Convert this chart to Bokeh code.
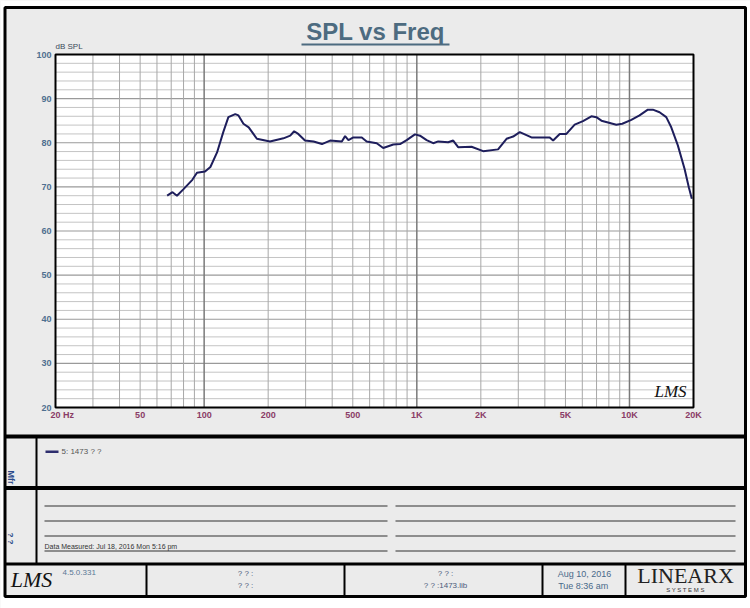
from bokeh.plotting import figure
from bokeh.models import Range1d, LogScale, LinearScale
from bokeh.core.properties import value
from bokeh.embed import file_html
from bokeh.resources import INLINE
import math

# ---------------- data ----------------
freq_hz = [67, 71, 74.5, 80, 88, 92.5, 101, 107, 115, 123, 130, 140, 145, 153, 162,
           177, 204, 236, 254, 265, 277, 298, 327, 358, 391, 444, 460, 477, 503, 551,
           581, 648, 695, 775, 834, 896, 980, 1035, 1112, 1194, 1261, 1404, 1483, 1564,
           1808, 2051, 2410, 2642, 2837, 3049, 3460, 4217, 4374, 4700, 5050, 5525, 6043,
           6620, 6986, 7380, 7925, 8670, 9250, 10200, 11150, 12200, 12880, 13850, 14890,
           15720, 16880, 18150, 19010, 19640]
spl_db = [68.0, 68.8, 68.0, 69.5, 71.6, 73.2, 73.5, 74.5, 77.8, 82.4, 85.8, 86.5, 86.2,
          84.3, 83.5, 80.9, 80.3, 81.0, 81.6, 82.6, 82.0, 80.5, 80.3, 79.7, 80.5, 80.3,
          81.5, 80.6, 81.2, 81.2, 80.3, 79.9, 78.8, 79.6, 79.7, 80.6, 81.9, 81.6, 80.6,
          79.9, 80.3, 80.1, 80.5, 79.0, 79.1, 78.1, 78.5, 80.9, 81.4, 82.4, 81.2, 81.2,
          80.5, 82.0, 82.0, 84.1, 84.9, 86.0, 85.8, 85.0, 84.6, 84.1, 84.3, 85.2, 86.2,
          87.5, 87.5, 86.9, 85.8, 83.5, 79.4, 74.1, 69.9, 67.3]

x_ticks = [20, 50, 100, 200, 500, 1000, 2000, 5000, 10000, 20000]
x_tick_labels = ["20  Hz", "50", "100", "200", "500", "1K", "2K", "5K", "10K", "20K"]
x_grid_lines = [30, 40, 50, 60, 70, 80, 90,
                200, 300, 400, 500, 600, 700, 800, 900,
                2000, 3000, 4000, 5000, 6000, 7000, 8000, 9000]
x_decades = [100, 1000, 10000]
y_ticks = [20, 30, 40, 50, 60, 70, 80, 90, 100]
y_tick_labels = [str(v) for v in y_ticks]
y_minor = [v for v in range(22, 100, 2) if v % 10 != 0]

F_MIN, F_MAX = 20, 20000
DB_MIN, DB_MAX = 20, 100

title_text = "SPL vs Freq"
y_unit = "dB SPL"
legend_text = "5: 1473 ? ?"
measured_text = "Data Measured: Jul 18, 2016  Mon  5:16 pm"

# ---------------- page geometry (pixels) ----------------
W, H = 750, 608
PL, PR, PT, PB = 55, 693, 54, 407   # plot frame in page pixels

dec_per_px = math.log10(F_MAX / F_MIN) / (PR - PL)
f_lo = F_MIN * 10 ** (-PL * dec_per_px)
f_hi = F_MAX * 10 ** ((W - PR) * dec_per_px)
db_per_px = (DB_MAX - DB_MIN) / (PB - PT)
db_lo = DB_MIN - (H - PB) * db_per_px
db_hi = DB_MAX + PT * db_per_px

p = figure(width=W, height=H, title=None, output_backend="svg", toolbar_location=None,
           x_range=Range1d(0, W), y_range=Range1d(H, 0),
           x_axis_location=None, y_axis_location=None,
           min_border=0, min_border_left=0, min_border_right=0,
           min_border_top=0, min_border_bottom=0)
p.extra_x_ranges = {"f": Range1d(f_lo, f_hi)}
p.extra_x_scales = {"f": LogScale()}
p.extra_y_ranges = {"db": Range1d(db_lo, db_hi)}
p.extra_y_scales = {"db": LinearScale()}
p.xgrid.visible = False
p.ygrid.visible = False
p.outline_line_color = None
p.background_fill_color = "#ebebeb"
p.border_fill_color = "#ebebeb"

FR = dict(x_range_name="f", y_range_name="db")

def box(l, t, r, b, color):
    p.quad(left=[l], right=[r], top=[t], bottom=[b], fill_color=color, line_color=None)

def txt(x, y, text, size="8px", color="#333333", align="left", style="normal",
        font="Liberation Sans", angle=0.0, **kw):
    if not isinstance(text, list):
        x, y, text = [x], [y], [text]
    p.text(x=x, y=y, text=text, text_font=value(font), text_font_size=value(size),
           text_color=color, text_align=align, text_baseline="middle",
           text_font_style=style, angle=angle, **kw)

# white margins outside the outer border
box(0, 0, 4, H, "white")
box(746, 0, W, H, "white")
box(0, 0, W, 6, "white")
box(0, 597, W, H, "white")

# ---------------- the chart ----------------
p.quad(left=[F_MIN], right=[F_MAX], bottom=[DB_MIN], top=[DB_MAX],
       fill_color="white", line_color=None, **FR)
p.segment(x0=[F_MIN] * len(y_minor), x1=[F_MAX] * len(y_minor), y0=y_minor, y1=y_minor,
          line_color="#c4c4c4", line_width=1, **FR)
p.segment(x0=[F_MIN] * len(y_ticks), x1=[F_MAX] * len(y_ticks), y0=y_ticks, y1=y_ticks,
          line_color="#9a9a9a", line_width=1.2, **FR)
p.segment(x0=x_grid_lines, x1=x_grid_lines, y0=[DB_MIN] * len(x_grid_lines),
          y1=[DB_MAX] * len(x_grid_lines), line_color="#a8a8a8", line_width=1, **FR)
p.segment(x0=x_decades, x1=x_decades, y0=[DB_MIN] * len(x_decades),
          y1=[DB_MAX] * len(x_decades), line_color="#7a7a7a", line_width=1.5, **FR)
p.line(freq_hz, spl_db, line_color="#1e1e5c", line_width=2, **FR)
p.quad(left=[F_MIN], right=[F_MAX], bottom=[DB_MIN], top=[DB_MAX],
       fill_color=None, line_color="black", line_width=2, **FR)

# tick labels
x_offsets = [8 if t == F_MIN else 0 for t in x_ticks]
txt(x_ticks, [414] * len(x_ticks), x_tick_labels, size="9px", color="#8a3c66",
    align="center", style="bold", x_range_name="f", x_offset=x_offsets)
txt([51] * len(y_ticks), y_ticks, y_tick_labels, size="9px", color="#4f6f8f",
    align="right", style="bold", y_range_name="db")
txt(55, 46, y_unit, size="8px", color="#3a4a5a")

# title
txt(375, 31, title_text, size="24px", color="#4d6b80", align="center", style="bold")
box(301, 43, 449, 45, "#4d6b80")

# LMS logo inside plot
txt(670, 391, "LMS", size="17px", color="#111111", align="center", style="italic",
    font="Liberation Serif")

# ---------------- lower panels ----------------
p.quad(left=[4.5], right=[745], top=[7], bottom=[596], fill_color=None,
       line_color="black", line_width=3)
box(5, 434, 744, 438, "black")
box(5, 485.5, 744, 489.5, "black")
box(5, 562, 744, 565, "black")
box(35, 437, 37, 563, "black")
for xv in [146, 344, 542, 625]:
    box(xv - 1, 564, xv + 1, 595, "black")

# legend panel
box(45, 450, 58, 452.5, "#2e2e6e")
txt(61, 451, legend_text, size="8px", color="#555555")
txt(10, 477, "Mfr", size="9px", color="#2a4a8a", align="center", style="bold",
    angle=-math.pi / 2)

# notes panel
for yv in [505.5, 520.5, 535.5, 550.5]:
    box(44, yv - 0.8, 387, yv + 0.8, "#6e6e6e")
    box(395, yv - 0.8, 735, yv + 0.8, "#6e6e6e")
txt(44, 546, measured_text, size="7px", color="#333333")
txt(10, 538, "? ?", size="8px", color="#2a4a8a", align="center", style="bold",
    angle=-math.pi / 2)

# footer
txt(31, 579, "LMS", size="22px", color="#111111", align="center", style="italic",
    font="Liberation Serif")
txt(62, 572, "4.5.0.331", size="8px", color="#5a7896")
txt(245, 573, "? ? :", size="8px", color="#4a5a7a", align="center")
txt(245, 585, "? ? :", size="8px", color="#4a5a7a", align="center")
txt(445, 573, "? ? :", size="8px", color="#4a5a7a", align="center")
txt(445, 585, "? ? :1473.lib", size="8px", color="#4a5a7a", align="center")
txt(584, 573, "Aug 10, 2016", size="9px", color="#4a6a8a", align="center")
txt(584, 585, "Tue  8:36 am", size="9px", color="#4a6a8a", align="center")
txt(685, 575, "LINEARX", size="22px", color="#222222", align="center",
    font="Liberation Serif")
txt(685, 589, "S Y S T E M S", size="6px", color="#333333", align="center")

open("out.html", "w").write(file_html(p, INLINE))
